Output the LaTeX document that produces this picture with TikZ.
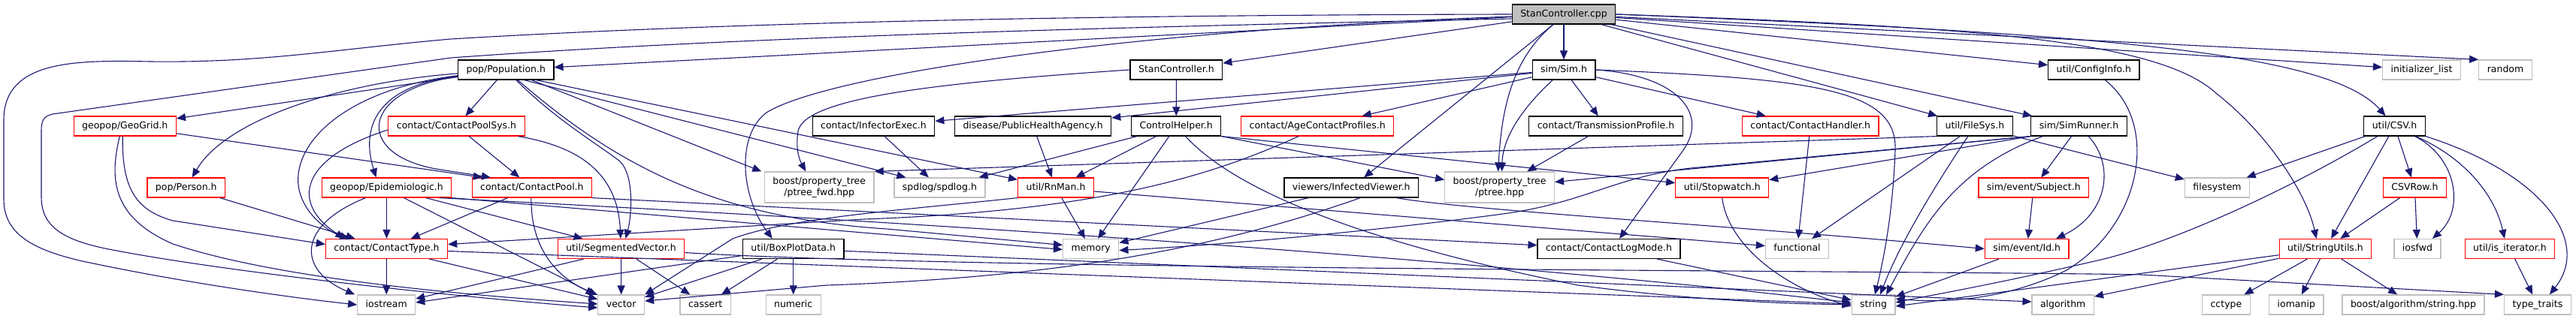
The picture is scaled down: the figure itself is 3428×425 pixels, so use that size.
\documentclass[tikz,border=0pt]{standalone}
\usepackage{fontspec}
\setmainfont{DejaVu Sans}
\usetikzlibrary{arrows.meta}
\definecolor{edgeblue}{RGB}{25,25,112}
\definecolor{sysgray}{RGB}{191,191,191}
\tikzset{
  base/.style={rectangle, fill=white, line width=1.2pt, inner xsep=11pt, inner ysep=0pt,
               font=\fontsize{12.5}{15}\selectfont},
  ln/.style={base, minimum height=26pt, text height=9.5pt, text depth=3pt},
  docn/.style={ln, draw=black},
  trn/.style={ln, draw=red},
  sysn/.style={ln, draw=sysgray},
  rootn/.style={ln, draw=black, fill=sysgray},
  sys2/.style={base, draw=sysgray, align=center, minimum height=41pt},
  inc/.style={draw=edgeblue, line width=1.1pt, -{Triangle[length=12pt,width=10pt]}},
}
\begin{document}
\begin{tikzpicture}[x=1pt,y=-1pt]
    \useasboundingbox (0,0) rectangle (3428,425);
    \node[rootn] (n0) at (2081,19) {StanController.cpp};
    \node[docn] (pop) at (673.3,93) {pop/Population.h};
    \node[docn] (sch) at (1565.4,93) {StanController.h};
    \node[docn] (sim) at (2081,93) {sim/Sim.h};
    \node[docn] (cfg) at (2786.3,93) {util/ConfigInfo.h};
    \node[sysn] (inil) at (3222.5,93) {initializer\_list};
    \node[sysn] (rnd) at (3334,93) {random};
    \node[trn] (geo) at (166.3,168) {geopop/GeoGrid.h};
    \node[trn] (cps) at (607.5,168) {contact/ContactPoolSys.h};
    \node[docn] (inf) at (1162.5,168) {contact/InfectorExec.h};
    \node[docn] (pha) at (1374.6,168) {disease/PublicHealthAgency.h};
    \node[docn] (ctl) at (1565.2,168) {ControlHelper.h};
    \node[trn] (acp) at (1753.2,168) {contact/AgeContactProfiles.h};
    \node[docn] (tp) at (2137,168) {contact/TransmissionProfile.h};
    \node[trn] (ch) at (2409.2,168) {contact/ContactHandler.h};
    \node[docn] (fs) at (2627.9,168) {util/FileSys.h};
    \node[docn] (sr) at (2766.5,168) {sim/SimRunner.h};
    \node[docn] (csv) at (3186.5,168) {util/CSV.h};
    \node[trn] (per) at (247.8,250) {pop/Person.h};
    \node[trn] (epi) at (514.5,250) {geopop/Epidemiologic.h};
    \node[trn] (cp) at (707.9,250) {contact/ContactPool.h};
    \node[sys2] (ptf) at (1090.2,249.5) {boost/property\_tree\\/ptree\_fwd.hpp};
    \node[sysn] (spd) at (1250.4,250) {spdlog/spdlog.h};
    \node[trn] (rn) at (1405,250) {util/RnMan.h};
    \node[docn] (iv) at (1798.3,250) {viewers/InfectedViewer.h};
    \node[sys2] (pt) at (1995.6,249.5) {boost/property\_tree\\/ptree.hpp};
    \node[trn] (sw) at (2291.7,250) {util/Stopwatch.h};
    \node[trn] (sub) at (2706.3,250) {sim/event/Subject.h};
    \node[sysn] (fsy) at (2950.5,250) {filesystem};
    \node[trn] (csvr) at (3213.4,250) {CSVRow.h};
    \node[trn] (ct) at (514.5,331.5) {contact/ContactType.h};
    \node[trn] (sv) at (826.5,331.5) {util/SegmentedVector.h};
    \node[docn] (bpd) at (1055.7,331.5) {util/BoxPlotData.h};
    \node[sysn] (mem) at (1451.7,331.5) {memory};
    \node[docn] (clm) at (2141,331.5) {contact/ContactLogMode.h};
    \node[sysn] (fun) at (2391.5,331.5) {functional};
    \node[trn] (id) at (2697.2,331.5) {sim/event/Id.h};
    \node[trn] (su) at (3094.5,331.5) {util/StringUtils.h};
    \node[sysn] (iof) at (3216.9,331.5) {iosfwd};
    \node[trn] (isit) at (3339.9,331.5) {util/is\_iterator.h};
    \node[sysn] (ios) at (514.2,406) {iostream};
    \node[sysn] (vec) at (826.7,406) {vector};
    \node[sysn] (cas) at (938.7,406) {cassert};
    \node[sysn] (num) at (1055.7,406) {numeric};
    \node[sysn] (str) at (2493.1,406) {string};
    \node[sysn] (alg) at (2745.2,406) {algorithm};
    \node[sysn] (cct) at (2962.4,406) {cctype};
    \node[sysn] (iom) at (3055.8,406) {iomanip};
    \node[sysn] (bas) at (3211.5,406) {boost/algorithm/string.hpp};
    \node[sysn] (tt) at (3376.9,406) {type\_traits};

    \draw[inc] (n0.west) .. controls (1500,20) and (1000,28) .. (600,52) .. controls (450,65) and (350,84) .. (200,82) .. controls (100,80) and (5,80) .. (5,160) -- (5,265) .. controls (5,310) and (40,332) .. (110,348) .. controls (250,378) and (400,398) .. (ios.west);
    \draw[inc] ([yshift=-6pt]n0.west) .. controls (1500,36) and (1000,48) .. (600,77) -- (70,152) .. controls (58,155) and (55,160) .. (55,175) -- (55,262) .. controls (55,300) and (80,320) .. (150,333) .. controls (300,362) and (600,395) .. ([yshift=-4pt]vec.west);
    \draw[inc] (n0) -- (pop);
    \draw[inc] (n0) -- (sch);
    \draw[inc] (n0) -- (sim);
    \draw[inc] ([xshift=-14pt]n0.south) .. controls (2010,80) and (1998,150) .. ([xshift=-2pt]pt.north);
    \draw[inc] ([xshift=-14pt]n0.south) -- (iv);
    \draw[inc] ([yshift=-3pt]n0.west) .. controls (1500,40) and (1100,100) .. (1020,150) .. controls (980,180) and (985,260) .. ([xshift=-28pt]bpd.north);
    \draw[inc] (n0) -- (cfg);
    \draw[inc] (n0) -- (fs);
    \draw[inc] (n0) -- (sr);
    \draw[inc] (n0.east) .. controls (2800,45) and (3100,70) .. (csv);
    \draw[inc] (n0) -- (inil);
    \draw[inc] (n0) -- (rnd.north west);
    \draw[inc] (n0.east) .. controls (2600,35) and (2870,50) .. (2950,125) .. controls (3020,180) and (3070,260) .. ([xshift=-12pt]su.north);

    \draw[inc] (sim) -- (tp);
    \draw[inc] (sim) .. controls (2030,140) and (2000,180) .. ([xshift=3pt]pt.north);
    \draw[inc] (sim) -- (acp);
    \draw[inc] (sim) -- (pha);
    \draw[inc] (sim) -- (inf);
    \draw[inc] (sim) -- (ch);
    \draw[inc] (sim.east) .. controls (2420,105) and (2525,120) .. (2522,200) .. controls (2519,280) and (2508,340) .. ([xshift=2pt]str.north);
    \draw[inc] (sim.east) .. controls (2230,100) and (2275,150) .. (2240,200) -- ([xshift=14pt]clm.north);

    \draw[inc] (sch) -- (ctl);
    \draw[inc] (sch.west) .. controls (1250,110) and (1070,130) .. (1062,175) .. controls (1058,200) and (1065,215) .. ([xshift=-18pt]ptf.north);
    \draw[inc] (ctl) -- (spd);
    \draw[inc] (ctl) -- (rn);
    \draw[inc] (ctl) -- (mem);
    \draw[inc] (ctl) .. controls (1640,250) and (1800,320) .. (2100,380) .. controls (2250,400) and (2380,405) .. (str);
    \draw[inc] (ctl.south east) -- ([yshift=10pt]pt.west);
    \draw[inc] (ctl.south east) -- (sw);
    \draw[inc] (inf) -- (spd);
    \draw[inc] (pha) -- (rn);
    \draw[inc] ([xshift=-25pt]acp.south) .. controls (1620,230) and (1480,280) .. (1150,292) -- ([yshift=6pt]ct.east);
    \draw[inc] (tp) -- (pt);

    \draw[inc] (pop) -- (geo);
    \draw[inc] (pop) .. controls (450,110) and (300,160) .. (per);
    \draw[inc] (pop) .. controls (500,115) and (480,170) .. ([xshift=-14pt]epi.north);
    \draw[inc] (pop) .. controls (450,120) and (380,200) .. (400,260) .. controls (410,290) and (440,310) .. ([xshift=-50pt]ct.north);
    \draw[inc] (pop) .. controls (480,120) and (470,205) .. (580,225) -- ([xshift=-55pt]cp.north);
    \draw[inc] (pop) -- (cps);
    \draw[inc] (pop) .. controls (740,160) and (800,195) .. (825,215) .. controls (845,235) and (840,290) .. ([xshift=6pt]sv.north);
    \draw[inc] (pop) -- ([xshift=-77pt]ptf.north);
    \draw[inc] ([xshift=24pt]pop.south) -- ([xshift=-45pt]spd.north);
    \draw[inc] ([xshift=40pt]pop.south) -- ([yshift=-3pt]rn.north west);
    \draw[inc] (pop) .. controls (820,220) and (950,290) .. (1180,305) -- ([yshift=5pt]mem.west);

    \draw[inc] ([yshift=-5pt]cps.west) .. controls (400,210) and (385,270) .. ([xshift=-56pt]ct.north);
    \draw[inc] (cps) -- (cp);
    \draw[inc] (cps) .. controls (770,195) and (822,230) .. (sv);
    \draw[inc] ([xshift=-3pt]geo.south) .. controls (162,250) and (180,280) .. (230,294) -- ([yshift=6pt]ct.west);
    \draw[inc] ([xshift=-7pt]geo.south) .. controls (145,240) and (150,290) .. (230,325) .. controls (380,375) and (650,395) .. ([yshift=1pt]vec.west);
    \draw[inc] (geo) -- ([xshift=-66pt]cp.north);
    \draw[inc] (per) -- ([xshift=-42pt]ct.north);

    \draw[inc] (epi) -- (ct);
    \draw[inc] ([xshift=-28pt]epi.south) .. controls (395,300) and (395,360) .. ([xshift=-42pt]ios.north);
    \draw[inc] (epi) -- ([xshift=-51pt]sv.north);
    \draw[inc] ([xshift=23pt]epi.south) -- ([xshift=-35pt]vec.north);
    \draw[inc] (epi.south east) -- ([yshift=-1pt]mem.west);
    \draw[inc] ([xshift=70pt]epi.south) .. controls (1400,305) and (1900,345) .. (2300,385) -- ([yshift=3pt]str.west);
    \draw[inc] (ct) -- (ios);
    \draw[inc] (ct) -- (vec);
    \draw[inc] (ct) -- (str);
    \draw[inc] (cp) -- (ct);
    \draw[inc] ([xshift=-1pt]cp.south) .. controls (706,330) and (740,370) .. (vec);
    \draw[inc] (cp.south east) -- (clm);

    \draw[inc] (sv) -- (vec);
    \draw[inc] (sv) -- (cas);
    \draw[inc] ([xshift=-50pt]sv.south) -- ([yshift=8pt]ios.east);
    \draw[inc] (sv) .. controls (1300,360) and (2500,360) .. (2850,366) -- (tt.north west);
    \draw[inc] (bpd) -- (vec);
    \draw[inc] (bpd) -- (cas);
    \draw[inc] (bpd) -- (num);
    \draw[inc] ([yshift=-9pt]bpd.west) -- ([yshift=3pt]ios.east);
    \draw[inc] (bpd) -- ([yshift=4pt]alg.west);

    \draw[inc] (rn) -- (mem);
    \draw[inc] (rn.south west) .. controls (1200,280) and (1050,290) .. (975,318) -- (vec.north east);
    \draw[inc] ([yshift=-5pt]rn.east) -- ([yshift=4pt]fun.west);
    \draw[inc] ([xshift=60pt]iv.south) .. controls (1950,280) and (2300,300) .. (id.west);
    \draw[inc] (iv) -- ([yshift=8pt]mem.east);
    \draw[inc] ([xshift=12pt]iv.south) .. controls (1650,320) and (1450,368) .. (1100,380) -- ([yshift=5pt]vec.east);
    \draw[inc] (sw.south) .. controls (2300,330) and (2380,385) .. ([yshift=-2pt]str.west);
    \draw[inc] (clm) -- (str);
    \draw[inc] (ch) -- (fun);

    \draw[inc] (fs) -- (fun);
    \draw[inc] (fs) .. controls (2580,240) and (2530,320) .. ([xshift=9pt]str.north);
    \draw[inc] (fs.south west) -- (ptf.north east);
    \draw[inc] (fs) -- (fsy);
    \draw[inc] (sr) -- (sub);
    \draw[inc] (sr) .. controls (2815,220) and (2805,285) .. ([xshift=39pt]id.north);
    \draw[inc] ([xshift=-48pt]sr.south) .. controls (2600,225) and (2560,300) .. ([xshift=17pt]str.north);
    \draw[inc] (sr.south west) -- (sw);
    \draw[inc] (sr.south west) -- (pt);
    \draw[inc] (sr.south west) -- (2250,224) .. controls (2150,235) and (2110,270) .. (2000,285) .. controls (1850,305) and (1650,325) .. ([yshift=-2pt]mem.east);
    \draw[inc] (sub) -- (id);
    \draw[inc] (id) -- (str);
    \draw[inc] ([xshift=15pt]cfg.south) .. controls (2875,165) and (2850,300) .. (2750,360) .. controls (2680,395) and (2600,405) .. ([yshift=8pt]str.east);

    \draw[inc] (csv) -- (fsy);
    \draw[inc] (csv) -- (su);
    \draw[inc] (csv) -- (csvr);
    \draw[inc] (csv) .. controls (3270,210) and (3280,280) .. ([xshift=20pt]iof.north);
    \draw[inc] ([xshift=28pt]csv.south) .. controls (3280,210) and (3320,260) .. ([xshift=-7pt]isit.north);
    \draw[inc] (csv.south east) .. controls (3380,230) and (3450,320) .. ([xshift=16pt]tt.north);
    \draw[inc] (csv) .. controls (3050,250) and (2900,320) .. (2800,345) .. controls (2650,380) and (2560,395) .. ([yshift=3pt]str.east);
    \draw[inc] (csvr) -- (su);
    \draw[inc] (csvr) -- (iof);
    \draw[inc] (su) -- (cct);
    \draw[inc] (su) -- (iom);
    \draw[inc] (su) -- (bas);
    \draw[inc] (su) -- ([yshift=-2pt]str.east);
    \draw[inc] (su) -- ([yshift=11pt]alg.east);
    \draw[inc] (isit) -- (tt);
  \end{tikzpicture}
\end{document}
